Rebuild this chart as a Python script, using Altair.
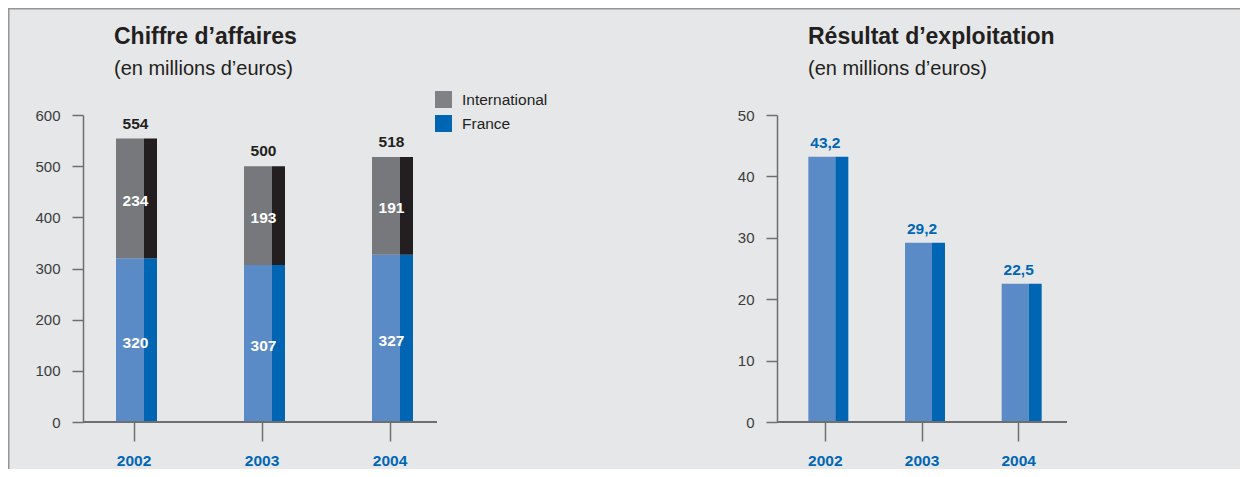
import altair as alt
import pandas as pd

# ---- data ----
years = ["2002", "2003", "2004"]
ca_france = [320, 307, 327]
ca_international = [234, 193, 191]
ca_total = [554, 500, 518]
re_values = [43.2, 29.2, 22.5]
series_names = ["International", "France"]

title_left = "Chiffre d’affaires"
title_right = "Résultat d’exploitation"
subtitle = "(en millions d’euros)"

# ---- styles ----
BG = "#e6e7e9"
AXIS = "#6d6e71"
TXT = "#231f20"
BLUE = "#0066b3"
LIGHT_BLUE = "#5b8bc7"
GRAY = "#77787b"
BLACKISH = "#231f20"
LEGEND_GRAY = "#808184"
FRAME = "#939598"
FONT = "Liberation Sans, Arial, sans-serif"

# ---- tables ----
df_ca = pd.DataFrame({
    "year": years * 2,
    "series": ["France"] * 3 + ["International"] * 3,
    "lo": [0] * 3 + ca_france,
    "hi": ca_france + [f + i for f, i in zip(ca_france, ca_international)],
    "value": ca_france + ca_international,
})
df_ca["mid"] = (df_ca["lo"] + df_ca["hi"]) / 2
df_tot = pd.DataFrame({"year": years, "total": ca_total})
df_re = pd.DataFrame({"year": years, "value": re_values})
df_zero = pd.DataFrame({"v": [0]})
df_one = pd.DataFrame({"t": [1]})

W1, W2, H = 354, 290, 307


def x_axis():
    return alt.Axis(title=None, domain=False, ticks=True, tickSize=19, tickColor=AXIS,
                    tickWidth=1.5, labelColor=BLUE, labelFont=FONT, labelFontSize=15.5,
                    labelFontWeight="bold", labelPadding=12, labelAngle=0, grid=False)


def y_axis(vals):
    return alt.Axis(title=None, values=vals, tickSize=11, tickColor=AXIS, tickWidth=1.5,
                    domainColor=AXIS, domainWidth=1.5, labelFont=FONT, labelFontSize=15,
                    labelColor="#3c3c3c", labelPadding=12, grid=False)


def frame_band(x1, x2, y1, y2):
    return alt.Chart(df_one).mark_rect(color=FRAME).encode(
        x=alt.value(x1), x2=alt.value(x2), y=alt.value(y1), y2=alt.value(y2))


def title_text(txt, size, weight, y):
    return alt.Chart(df_one).mark_text(text=txt, align="left", baseline="alphabetic", font=FONT,
                                       fontSize=size, fontWeight=weight, color=TXT).encode(
        x=alt.value(31), y=alt.value(y))


# ================= LEFT CHART =================
xl = alt.X("year:N", scale=alt.Scale(domain=years, range=[-13, 371]), axis=x_axis())
yl_scale = alt.Scale(domain=[0, 600])
yl = alt.Y("lo:Q", scale=yl_scale, axis=y_axis([0, 100, 200, 300, 400, 500, 600]))

base_l = alt.Chart(df_ca)

light_l = base_l.mark_bar(size=28, xOffset=-4).encode(
    x=xl, y=yl, y2="hi:Q",
    color=alt.Color("series:N", scale=alt.Scale(domain=series_names, range=[GRAY, LIGHT_BLUE]), legend=None),
)
dark_l = base_l.mark_bar(size=13, xOffset=16.5).encode(
    x=xl, y=yl, y2="hi:Q",
    color=alt.Color("series:N", scale=alt.Scale(domain=series_names, range=[BLACKISH, BLUE]), legend=None),
)
legend_l = base_l.mark_bar().encode(
    x=xl, y=alt.datum(0), y2=alt.datum(0),
    color=alt.Color("series:N", scale=alt.Scale(domain=series_names, range=[LEGEND_GRAY, BLUE]),
                    legend=alt.Legend(orient="none", legendX=352, legendY=-24, title=None,
                                      symbolType="square", symbolSize=289, symbolStrokeWidth=0,
                                      symbolOpacity=1, labelFont=FONT, labelFontSize=15.5,
                                      labelColor=TXT, labelOffset=10, rowPadding=7, padding=0)),
)
seg_lbl = base_l.mark_text(font=FONT, fontSize=15.5, fontWeight="bold", color="white",
                           baseline="middle", dx=1.5, dy=2.5).encode(
    x=xl, y=alt.Y("mid:Q", scale=yl_scale), text="value:Q")
tot_lbl = alt.Chart(df_tot).mark_text(font=FONT, fontSize=15.5, fontWeight="bold", color=TXT,
                                      baseline="middle", dx=1.5, dy=-15).encode(
    x=xl, y=alt.Y("total:Q", scale=yl_scale), text="total:Q")
base_rule_l = alt.Chart(df_zero).mark_rule(color=AXIS, strokeWidth=2).encode(
    x=alt.value(0), x2=alt.value("width"), y=alt.Y("v:Q", scale=yl_scale))

left = alt.layer(
    light_l, dark_l, legend_l, seg_lbl, tot_lbl, base_rule_l,
    frame_band(-75, -73.5, -107, 354), frame_band(-75, 521, -107, -105.5),
    title_text(title_left, 23, "bold", -71), title_text(subtitle, 20, "normal", -40.5),
).resolve_scale(color="independent").properties(width=W1, height=H)

# ================= RIGHT CHART =================
xr = alt.X("year:N", scale=alt.Scale(domain=years, paddingInner=0, paddingOuter=0), axis=x_axis())
yr_scale = alt.Scale(domain=[0, 50])
yr = alt.Y("value:Q", scale=yr_scale, axis=y_axis([0, 10, 20, 30, 40, 50]))

base_r = alt.Chart(df_re)
light_r = base_r.mark_bar(size=27, xOffset=-3.5, color=LIGHT_BLUE).encode(x=xr, y=yr)
dark_r = base_r.mark_bar(size=13, xOffset=16.5, color=BLUE).encode(x=xr, y=yr)
val_lbl = base_r.transform_calculate(
    label="replace(format(datum.value, '.1f'), '.', ',')"
).mark_text(font=FONT, fontSize=15.5, fontWeight="bold", color=BLUE, baseline="middle", dy=-14).encode(
    x=xr, y=alt.Y("value:Q", scale=yr_scale), text="label:N")
base_rule_r = alt.Chart(df_zero).mark_rule(color=AXIS, strokeWidth=2).encode(
    x=alt.value(0), x2=alt.value("width"), y=alt.Y("v:Q", scale=yr_scale))

right = alt.layer(
    light_r, dark_r, val_lbl, base_rule_r,
    frame_band(-173, 463, -107, -105.5),
    title_text(title_right, 23, "bold", -71), title_text(subtitle, 20, "normal", -40.5),
).properties(width=W2, height=H)

chart = alt.hconcat(left, right, spacing=0).properties(
    background=BG, padding=0
).configure_view(stroke=None)

chart.save("out.html", embed_options={"renderer": "svg", "actions": False})
